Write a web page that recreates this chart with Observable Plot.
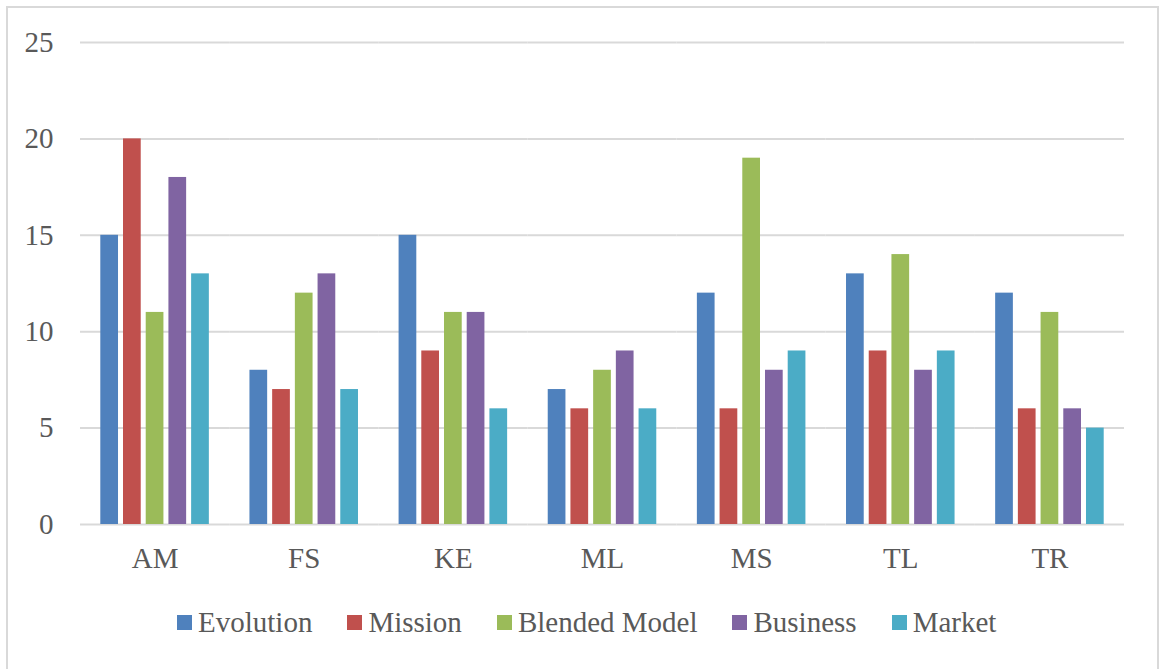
<!DOCTYPE html>
<html>
<head>
<meta charset="utf-8">
<script src="https://cdn.jsdelivr.net/npm/d3@7"></script>
<script src="https://cdn.jsdelivr.net/npm/@observablehq/plot@0.6"></script>
<style>
  html, body { margin: 0; padding: 0; background: white; }
  #wrap { position: relative; width: 1161px; height: 669px; overflow: hidden; }
  #frame { position: absolute; left: 6px; top: 6px; width: 1149px; height: 700px; border: 2px solid #d9d9d9; box-sizing: content-box; pointer-events: none; }
  #chart { position: absolute; left: 0; top: 0; }
  #legend { position: absolute; left: 177px; top: 605px; display: flex; align-items: center; height: 34px;
    font-family: "Liberation Serif", "Times New Roman", Times, "DejaVu Serif", serif; font-size: 29px; line-height: 34px; color: #595959; }
  .item { display: flex; align-items: center; margin-right: 35px; white-space: nowrap; }
  .sw { width: 15px; height: 15px; margin-right: 6px; display: inline-block; }
  #chart svg text { font-family: "Liberation Serif", "Times New Roman", Times, "DejaVu Serif", serif; }
</style>
</head>
<body>
<div id="wrap">
  <div id="chart"></div>
  <div id="legend"></div>
  <div id="frame"></div>
</div>
<script>
const categories = ["AM", "FS", "KE", "ML", "MS", "TL", "TR"];
const seriesNames = ["Evolution", "Mission", "Blended Model", "Business", "Market"];
const seriesColors = ["#4F81BD", "#C0504D", "#9BBB59", "#8064A2", "#4BACC6"];
const evolution = [15, 8, 15, 7, 12, 13, 12];
const mission   = [20, 7, 9, 6, 6, 9, 6];
const blended   = [11, 12, 11, 8, 19, 14, 11];
const business  = [18, 13, 11, 9, 8, 8, 6];
const market    = [13, 7, 6, 6, 9, 9, 5];
const yTicks = [0, 5, 10, 15, 20, 25];

const seriesValues = [evolution, mission, blended, business, market];
const data = [];
categories.forEach((c, i) => {
  seriesNames.forEach((s, j) => {
    data.push({category: c, series: s, value: seriesValues[j][i]});
  });
});

const serif = '"Liberation Serif", "Times New Roman", Times, "DejaVu Serif", serif';

const plot = Plot.plot({
  width: 1161,
  height: 590,
  marginLeft: 80,
  marginRight: 37,
  marginTop: 42,
  marginBottom: 66,
  style: {fontFamily: serif, fontSize: "29px", color: "#595959", background: "transparent"},
  fx: {domain: categories, paddingInner: 0, paddingOuter: 0, round: false, label: null, tickSize: 0, tickPadding: 23, axis: "bottom"},
  x: {domain: seriesNames, paddingInner: 0.22, paddingOuter: 0.894, round: false, axis: null},
  y: {domain: [0, 25], ticks: yTicks, tickSize: 0, tickPadding: 27, label: null},
  color: {domain: seriesNames, range: seriesColors},
  marks: [
    Plot.ruleY(yTicks, {stroke: "#d9d9d9", strokeWidth: 2}),
    Plot.barY(data, {fx: "category", x: "series", y: "value", fill: "series"})
  ]
});
document.getElementById("chart").appendChild(plot);

const legend = document.getElementById("legend");
seriesNames.forEach((s, j) => {
  const item = document.createElement("div");
  item.className = "item";
  const sw = document.createElement("span");
  sw.className = "sw";
  sw.style.background = seriesColors[j];
  const t = document.createElement("span");
  t.textContent = s;
  item.appendChild(sw);
  item.appendChild(t);
  legend.appendChild(item);
});
</script>
</body>
</html>
